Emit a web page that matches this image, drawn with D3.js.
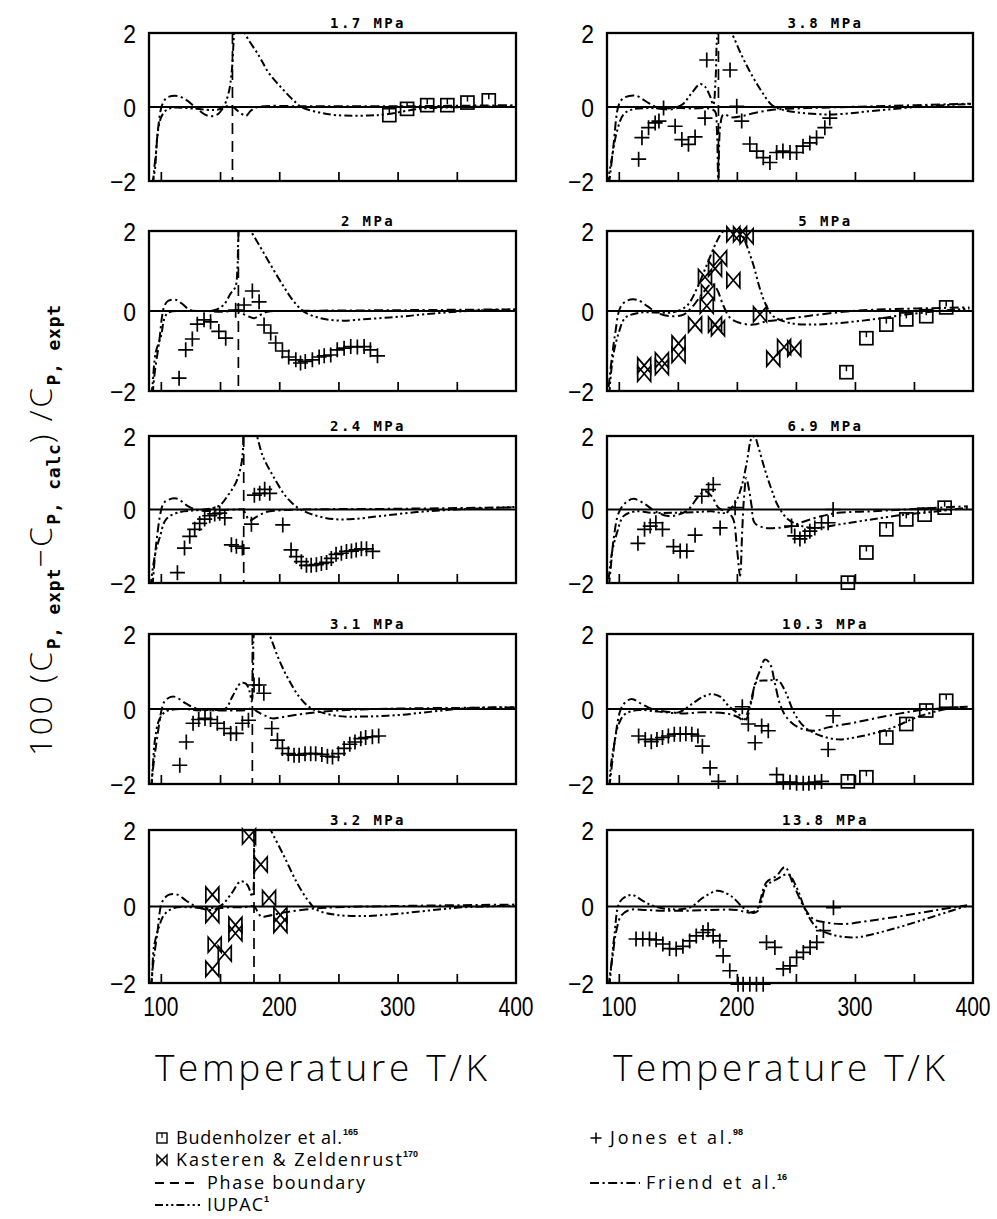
<!DOCTYPE html>
<html><head><meta charset="utf-8">
<script src="https://cdn.jsdelivr.net/npm/d3@7"></script>
<style>body{margin:0;background:#fff}</style>
</head><body>
<svg id="c" width="997" height="1219"></svg>
<script>
// ---------------- DATA ----------------
const titles = ["1.7 MPa","2 MPa","2.4 MPa","3.1 MPa","3.2 MPa","3.8 MPa","5 MPa","6.9 MPa","10.3 MPa","13.8 MPa"];
const phaseT = [160.5,165.5,170,177.3,178.7,184.4,null,null,null,null];
const xTickValues = [100,150,200,250,300,350];
const xTickLabels = [100,200,300,400];
const yTickLabels = [2,0,-2];

// Friend et al. (dash-dot) curves
const friend17 = [[93.5,-2.1],[94,-1.8],[96,-1.2],[98,-0.5],[101,0.05],[105,0.25],[114,0.3],[121,0.2],[129,0.0],[137,-0.2],[142,-0.25],[148,-0.2],[154,0],[160,0.02],[163,-0.05],[168,-0.18],[172,-0.24],[176,-0.1],[182,0],[220,0.02],[300,0.02],[400,0.05]];
const friend20 = [[93,-2.1],[95,-1.5],[98.5,-0.8],[102.7,0.1],[106,0.25],[112.5,0.28],[118,0.18],[125,0.02],[139,0],[150,-0.02],[160,0],[165,0.02],[168,-0.05],[173,-0.12],[178.7,-0.18],[184,-0.1],[190,-0.02],[210,0.0],[300,0.02],[400,0.04]];
const friend24 = [[93,-2.1],[96,-0.96],[100.4,0],[103,0.2],[113,0.3],[124,0.07],[133,-0.03],[150,-0.02],[165,0],[169.4,0.0],[172,-0.15],[175,-0.3],[180.7,-0.2],[189,-0.07],[197.6,-0.03],[220,0],[300,0.02],[400,0.06]];
const friend31 = [[92,-2.1],[93,-1.7],[97,-0.74],[101.3,0.06],[104,0.24],[111,0.33],[121,0.15],[129.4,0.02],[140.7,-0.03],[154.8,-0.04],[171.7,-0.03],[177,0.02],[181.5,-0.07],[186,-0.15],[190,-0.2],[194,-0.25],[205.5,-0.2],[222,-0.12],[245,-0.05],[280,0],[400,0.04]];
const friend32 = [[92,-2.1],[92.8,-1.7],[97,-0.7],[101.3,0.13],[107,0.31],[114,0.31],[122.4,0.13],[131,-0.02],[142,-0.09],[150.6,-0.04],[160,-0.02],[170,-0.02],[178.7,0.0],[182,-0.15],[185,-0.27],[190,-0.25],[205,-0.15],[222,-0.08],[240,-0.03],[400,0.05]];
const friend38 = [[91.5,-2.1],[92.8,-1.8],[95.6,-1.0],[100,0.06],[104,0.24],[114,0.31],[125,0.11],[133.7,-0.03],[142,-0.07],[150.6,-0.03],[161.8,-0.04],[176,-0.04],[181.5,-0.12],[183,-0.56],[184.4,-2.2],[185.8,-0.56],[188.6,-0.2],[195.6,-0.28],[204,-0.25],[215,-0.16],[232,-0.07],[260,-0.03],[316.8,0.02],[398,0.09]];
const friend50 = [[91.4,-1.9],[94.2,-1.15],[97,-0.55],[101.3,0.09],[107,0.26],[115.4,0.28],[123.8,0.13],[132.3,-0.04],[143.5,-0.13],[154.8,-0.09],[163,0.13],[171.7,0.47],[178.7,0.68],[183,0.55],[188.6,0.13],[194.2,-0.17],[202.7,-0.3],[214,-0.34],[225,-0.26],[239.3,-0.21],[259,-0.13],[287,-0.03],[315,0.03],[397,0.09]];
const friend69 = [[91.5,-2.1],[92.8,-1.72],[95.6,-0.81],[99.9,-0.09],[105.5,0.18],[112.5,0.29],[122.4,0.14],[130.8,-0.05],[142,-0.18],[150.6,-0.14],[159,0],[167.5,0.36],[173,0.5],[178.7,0.36],[184.4,0.05],[192.8,-0.09],[197,-0.27],[199.9,-0.99],[202.7,-1.8],[204.5,-0.6],[206,0.3],[208,0.86],[210.5,0.5],[212.5,0.09],[215,-0.36],[223.8,-0.5],[235,-0.5],[246,-0.45],[257.6,-0.32],[271.7,-0.18],[285.8,-0.09],[314,-0.05],[342,0],[395.6,0.09]];
const friend103 = [[92,-2.1],[94.2,-1.48],[97,-0.76],[101.3,-0.04],[105.5,0.18],[111,0.27],[119.6,0.13],[128,0],[145,-0.09],[156,-0.12],[167.5,-0.09],[178.7,-0.09],[192.8,-0.13],[201.3,-0.22],[205.5,-0.31],[209.7,-0.04],[215.4,0.67],[219.6,1.03],[223.8,1.32],[228,1.21],[232.3,0.67],[236.5,0.13],[242,-0.22],[252,-0.49],[266,-0.58],[277.3,-0.49],[299.9,-0.36],[328,-0.18],[356,-0.03],[395.6,0.06]];
const friend138 = [[91.5,-2.1],[92,-1.9],[94.8,-1.29],[97.6,-0.68],[102,-0.24],[109,-0.09],[123,-0.09],[137.3,-0.11],[157,-0.11],[177,-0.09],[199.6,-0.09],[211,-0.16],[216.6,-0.09],[225,0.63],[233.6,0.8],[240.7,1.03],[247.8,0.58],[256.3,0.02],[264.8,-0.33],[276,-0.42],[290.3,-0.46],[312.9,-0.37],[341.3,-0.24],[369.6,-0.09],[395,0.03]];

// IUPAC (dash-dot-dot) curves
const iupac17 = [[92.5,-2.1],[95,-1.7],[97,-0.8],[100,-0.3],[104,-0.1],[110,-0.02],[130,-0.05],[145,-0.08],[152,-0.02],[157,0.35],[160,1.0],[161.5,1.8],[163,2.4],[168,2.4],[171,2.0],[183,1.38],[191,0.93],[203,0.48],[214,0.12],[220,-0.02],[234,-0.15],[248,-0.22],[276,-0.23],[290,-0.2],[318,-0.05],[346,-0.01],[400,0.03]];
const iupac20 = [[92,-2.1],[93,-1.85],[95.6,-1.05],[100,-0.64],[105.5,-0.06],[122,0],[145,0.02],[153,0.15],[159,0.44],[163,0.6],[164.6,1.0],[165.5,1.85],[167,2.3],[172,2.2],[176,2.0],[184,1.6],[192.8,1.15],[204,0.6],[212.5,0.23],[221,-0.02],[235,-0.18],[252,-0.24],[274.5,-0.2],[302.7,-0.14],[331,-0.06],[359,0.0],[400,0.04]];
const iupac24 = [[91.5,-2.1],[92,-1.9],[95.6,-1.15],[99,-0.77],[104.6,-0.26],[116,-0.07],[127,-0.03],[141,0.02],[149.7,0.11],[156.8,0.39],[163.8,0.76],[168,1.23],[169.4,1.65],[170,2.1],[172,2.3],[178,2.15],[181,2.0],[186,1.46],[195,0.9],[206,0.34],[217,0.02],[231.4,-0.17],[245.5,-0.26],[262.4,-0.26],[287.7,-0.17],[316,-0.07],[344,-0.01],[400,0.07]];
const iupac31 = [[92,-2.1],[93.5,-1.4],[95,-0.83],[98.5,-0.3],[104,-0.07],[118,0],[132,-0.04],[146,-0.03],[154.8,0.02],[160.4,0.33],[167.5,0.69],[172,0.67],[175,0.46],[176.8,0.2],[178,1.2],[178.7,2.0],[182,2.3],[186,2.3],[191.4,2.0],[200,1.3],[208,0.78],[216.8,0.33],[225,0.06],[233.7,-0.07],[250.6,-0.19],[273,-0.2],[301,-0.16],[329,-0.07],[357.6,0.02],[398,0.05]];
const iupac32 = [[91.4,-2.1],[92.5,-1.85],[94.2,-1.05],[98.5,-0.53],[102.7,-0.22],[111,-0.04],[125,-0.02],[142,-0.04],[150.6,0.02],[159,0.31],[167.5,0.66],[173,0.57],[177.3,0.26],[178.7,0.7],[180,2.0],[184,2.3],[189,2.25],[192.8,2.0],[204,1.32],[215,0.62],[223.8,0.18],[232,-0.09],[249,-0.22],[271.7,-0.25],[300,-0.19],[328,-0.1],[356,-0.02],[400,0.02]];
const iupac38 = [[91,-2.1],[91.4,-1.9],[94.2,-1.37],[98.5,-0.65],[104,-0.2],[111,-0.07],[125,-0.03],[142,-0.04],[153.4,0.06],[161.8,0.38],[168.9,0.62],[173,0.55],[177.3,0.29],[180,0.06],[182,0.78],[183.8,2.0],[187,2.3],[192,2.2],[195.6,2.0],[204,1.4],[212.5,0.87],[221,0.42],[229.4,0.06],[238,-0.07],[254.8,-0.16],[274.5,-0.2],[288.6,-0.19],[316.8,-0.1],[359,0.02],[398.5,0.08]];
const iupac50 = [[92,-2.1],[92.8,-1.74],[95.6,-1.06],[99.9,-0.55],[105.5,-0.17],[118,-0.04],[132,-0.04],[146.3,-0.03],[157.6,0.13],[166,0.55],[174.5,1.15],[183,1.74],[188.6,2.0],[195.6,2.08],[202.7,2.0],[208,1.66],[214,1.15],[219.6,0.55],[225,0.13],[230.8,-0.13],[245,-0.3],[264.6,-0.34],[287,-0.3],[315,-0.21],[343.5,-0.09],[371.7,0],[397,0.06]];
const iupac69 = [[91.4,-1.9],[94.2,-1.17],[98.5,-0.63],[104,-0.18],[114,-0.05],[128,-0.09],[145,-0.09],[164.6,-0.07],[178.7,-0.05],[190,-0.09],[198.5,0.18],[204,0.63],[208.3,1.26],[212.5,1.94],[215,1.99],[218,1.72],[223.8,1.08],[229.4,0.54],[235,0.09],[243.5,-0.27],[254.8,-0.45],[268.9,-0.5],[285.8,-0.41],[314,-0.27],[342,-0.14],[370,-0.05],[395.6,0.05]];
const iupac103 = [[92,-2.1],[92.8,-1.66],[95.6,-1.03],[99.9,-0.4],[105.5,-0.13],[116.8,-0.03],[133.7,-0.07],[150.6,-0.09],[161.8,0.13],[170.3,0.31],[178.7,0.4],[185.8,0.33],[192.8,0.09],[201.3,-0.13],[207,-0.31],[212.5,0.22],[216.8,0.72],[226.6,0.76],[235,0.76],[240.7,0.49],[249,-0.13],[257.6,-0.49],[271.7,-0.72],[285.8,-0.81],[299.9,-0.76],[328,-0.54],[356,-0.18],[384.4,0.04],[395.6,0.06]];
const iupac138 = [[92,-2.1],[93.4,-1.63],[96.2,-0.77],[100.5,0.1],[106,0.26],[111.8,0.3],[120.3,0.15],[128.8,0.02],[143,-0.07],[160,-0.03],[171.3,0.23],[182.6,0.41],[188.4,0.38],[196.9,0.23],[205.3,-0.03],[213.8,-0.17],[218,-0.11],[225,0.54],[233.6,0.71],[243.5,0.84],[250.6,0.5],[259,-0.16],[267.6,-0.55],[279,-0.72],[298.8,-0.81],[327,-0.63],[355.4,-0.37],[383.8,-0.09],[395,0.02]];

// Jones et al. (+)
const jones20 = [[115.4,-1.68],[121,-0.97],[126.6,-0.7],[130.8,-0.33],[136.5,-0.22],[142,-0.27],[149,-0.51],[154.8,-0.68],[163.2,0.02],[170.3,0.15],[177.3,0.5],[183,0.23],[187.2,-0.35],[192.8,-0.55],[197,-0.8],[202.7,-1.0],[208,-1.15],[214,-1.22],[218,-1.3],[222,-1.26],[228,-1.22],[233.7,-1.15],[238,-1.12],[243.5,-1.1],[249,-0.97],[254.8,-0.93],[260.4,-0.89],[266,-0.9],[271.7,-0.89],[277,-0.97],[283,-1.12]];
const jones24 = [[114,-1.72],[120,-1.05],[124.4,-0.73],[128.6,-0.54],[132.8,-0.38],[137,-0.26],[141.3,-0.17],[145.5,-0.12],[149.7,-0.1],[154,-0.23],[159.6,-0.96],[163.8,-1.0],[168.9,-1.05],[176.5,-0.4],[179,0.39],[183.5,0.44],[187.7,0.55],[192,0.44],[203,-0.42],[210,-1.1],[214.5,-1.28],[218.7,-1.42],[223,-1.52],[227,-1.52],[231.4,-1.5],[235.6,-1.47],[240,-1.44],[244,-1.33],[248,-1.22],[252.5,-1.19],[256.8,-1.14],[261,-1.13],[265,-1.1],[269.4,-1.07],[273.7,-1.07],[279,-1.14]];
const jones31 = [[116,-1.5],[121.5,-0.88],[127.2,-0.38],[132,-0.28],[137.3,-0.25],[142,-0.28],[147.7,-0.38],[153.4,-0.52],[159,-0.65],[163.8,-0.65],[168.9,-0.38],[174,-0.3],[178.7,0.64],[183,0.64],[187,0.42],[193.7,-0.52],[198.5,-0.83],[202.7,-1.05],[207.7,-1.19],[212.5,-1.23],[216.8,-1.23],[221.8,-1.19],[226.6,-1.19],[230.8,-1.19],[236,-1.21],[240.7,-1.26],[245,-1.28],[250,-1.19],[254.8,-1.05],[259.6,-0.94],[264,-0.88],[268.9,-0.79],[273,-0.76],[278.7,-0.74],[284,-0.72]];
const jones38 = [[116.8,-1.41],[119.6,-0.83],[125.2,-0.56],[130.8,-0.43],[134,-0.38],[137.9,-0.03],[147.7,-0.52],[153.4,-0.88],[159,-1.01],[164.6,-0.81],[173,-0.3],[174.5,1.27],[194.2,1.0],[199.9,0.02],[204.1,-0.38],[211,-1.0],[216.8,-1.19],[222.4,-1.37],[228,-1.5],[233.7,-1.23],[239,-1.19],[245,-1.23],[250.6,-1.23],[256,-1.06],[261.8,-0.97],[267.5,-0.83],[274.5,-0.56],[278.7,-0.3]];
const jones69 = [[116.2,-0.92],[121.8,-0.54],[126.6,-0.45],[131.4,-0.36],[137,-0.54],[146.3,-1.01],[152,-1.13],[157.6,-1.13],[164.6,-0.7],[170.3,0.36],[176,0.54],[180,0.68],[185.8,-0.5],[198.5,0.05],[246.3,-0.45],[249,-0.72],[253.4,-0.8],[257.6,-0.72],[261.8,-0.59],[266,-0.5],[271.7,-0.36],[277.3,-0.36],[281.5,0.0]];
const jones103 = [[116.8,-0.72],[122.4,-0.81],[127.5,-0.87],[132.3,-0.81],[137,-0.76],[142,-0.72],[147,-0.67],[152,-0.67],[156.8,-0.66],[161.8,-0.67],[167,-0.72],[170.8,-0.99],[177.3,-1.57],[184.4,-1.93],[204.6,0.06],[209.7,-0.4],[215.4,-0.9],[221,-0.45],[226.6,-0.58],[233.7,-1.75],[239.3,-1.95],[245,-1.95],[250.6,-1.98],[256.2,-1.98],[261,-1.98],[266,-1.95],[271.7,-1.93],[277.3,-1.08],[281.5,-0.18]];
const jones138 = [[114.6,-0.85],[120.3,-0.85],[126,-0.85],[131.6,-0.87],[137.3,-0.98],[143,-1.1],[148.6,-1.11],[154.3,-1.04],[160,-0.9],[165.6,-0.77],[171.3,-0.68],[175.6,-0.61],[179.9,-0.77],[185.5,-0.9],[188.4,-1.29],[194,-1.68],[201,-2.03],[205.3,-2.03],[211,-2.03],[216.6,-2.03],[222.3,-2.03],[225.1,-0.94],[232.2,-1.07],[239.3,-1.63],[245,-1.55],[250.6,-1.33],[256.3,-1.2],[262,-1.07],[267.7,-0.94],[273.3,-0.63],[281.8,-0.03]];

// Budenholzer et al. (square)
const bud17 = [[293,-0.22],[308,-0.05],[325,0.05],[342,0.05],[359,0.12],[377,0.18]];
const bud50 = [[292.8,-1.53],[309.7,-0.68],[326.6,-0.34],[343.5,-0.21],[360.4,-0.13],[377.3,0.09]];
const bud69 = [[294,-1.99],[309.7,-1.17],[326.6,-0.54],[343.5,-0.27],[359,-0.14],[376,0.05]];
const bud103 = [[294,-1.93],[309.7,-1.82],[326.6,-0.76],[343.5,-0.4],[360.4,-0.04],[377.3,0.22]];

// Kasteren & Zeldenrust (bowtie)
const kast32 = [[143.5,0.31],[143.5,-0.22],[145.5,-1.0],[143.5,-1.63],[154,-1.23],[163,-0.48],[163,-0.7],[174.5,1.83],[184.4,1.1],[191.4,0.22],[201,-0.22],[201,-0.48]];
const kast50 = [[121.5,-1.36],[121.5,-1.57],[136.5,-1.23],[136.5,-1.4],[150.6,-0.81],[150.6,-1.1],[164.6,-0.34],[173,0.85],[175.5,0.47],[174.5,0.13],[181.5,-0.34],[184,-0.43],[181.5,1.06],[185.8,1.32],[197,1.92],[202.7,1.92],[208.3,1.87],[197,0.77],[219.6,-0.08],[230.8,-1.19],[240,-0.9],[248.6,-0.94]];

// ---------------- LAYOUT ----------------
const colL = [149, 607], colR = [516, 973];
const rowT = [33, 231, 436, 634, 830], rowB = [181, 391, 583, 784, 983];

const panels = [
  {friend:friend17, iupac:iupac17, bud:bud17},
  {friend:friend20, iupac:iupac20, jones:jones20},
  {friend:friend24, iupac:iupac24, jones:jones24},
  {friend:friend31, iupac:iupac31, jones:jones31},
  {friend:friend32, iupac:iupac32, kast:kast32},
  {friend:friend38, iupac:iupac38, jones:jones38},
  {friend:friend50, iupac:iupac50, bud:bud50, kast:kast50},
  {friend:friend69, iupac:iupac69, jones:jones69, bud:bud69},
  {friend:friend103, iupac:iupac103, jones:jones103, bud:bud103},
  {friend:friend138, iupac:iupac138, jones:jones138}
].map((p,i)=>Object.assign(p,{title:titles[i], phase:phaseT[i]}));

const DASH_FRIEND = "9,3.5,2.2,3.5";
const DASH_IUPAC = "8,3,2.2,3,2.2,3";
const numFont = "'Liberation Sans', Arial, sans-serif";
const monoFont = "'DejaVu Sans Mono', monospace";
const thinFont = "'Open Sans', 'DejaVu Sans', sans-serif";

const svg = d3.select("#c");
const defs = svg.append("defs");

function plusPath(s){return `M${-s},0H${s}M0,${-s}V${s}`;}
function bowPath(w,h){return `M${-w},${-h}L${-w},${h}L${w},${-h}L${w},${h}Z`;}

panels.forEach((p,i)=>{
  const col = i<5?0:1, row = i%5;
  const L=colL[col], R=colR[col], T=rowT[row], B=rowB[row];
  const x = d3.scaleLinear().domain([90,400]).range([L,R]);
  const y = d3.scaleLinear().domain([-2,2]).range([B,T]);
  const g = svg.append("g");
  const cid = "clip"+i;
  defs.append("clipPath").attr("id",cid).append("rect").attr("x",L).attr("y",T).attr("width",R-L).attr("height",B-T);

  const ax = g.append("g").attr("transform",`translate(0,${B})`)
    .call(d3.axisBottom(x).tickValues(xTickValues).tickSize(-9).tickFormat(""));
  ax.select(".domain").remove();
  ax.selectAll("line").attr("stroke","#000").attr("stroke-width",1.7);

  g.append("line").attr("x1",L).attr("x2",R).attr("y1",y(0)).attr("y2",y(0)).attr("stroke","#000").attr("stroke-width",2);

  if(p.phase){
    g.append("line").attr("x1",x(p.phase)).attr("x2",x(p.phase)).attr("y1",T).attr("y2",B)
      .attr("stroke","#000").attr("stroke-width",1.7).attr("stroke-dasharray","11,7");
  }

  const line = d3.line().x(d=>x(d[0])).y(d=>y(d[1])).curve(d3.curveCatmullRom.alpha(0.5));
  const cg = g.append("g").attr("clip-path",`url(#${cid})`);
  cg.append("path").attr("d",line(p.friend)).attr("fill","none").attr("stroke","#000").attr("stroke-width",2).attr("stroke-dasharray",DASH_FRIEND);
  cg.append("path").attr("d",line(p.iupac)).attr("fill","none").attr("stroke","#000").attr("stroke-width",2).attr("stroke-dasharray",DASH_IUPAC);

  if(p.jones) g.selectAll(".j").data(p.jones).join("path")
    .attr("transform",d=>`translate(${x(d[0])},${y(d[1])})`).attr("d",plusPath(7.5))
    .attr("stroke","#000").attr("stroke-width",1.7).attr("fill","none");
  if(p.bud) {
    const bg = g.selectAll(".b").data(p.bud).join("g").attr("transform",d=>`translate(${x(d[0])},${y(d[1])})`);
    bg.append("rect").attr("x",-6.5).attr("y",-6.5).attr("width",13).attr("height",13).attr("fill","none").attr("stroke","#000").attr("stroke-width",1.7);
    bg.append("line").attr("x1",0).attr("x2",0).attr("y1",-6.5).attr("y2",-1).attr("stroke","#000").attr("stroke-width",1.5);
  }
  if(p.kast) g.selectAll(".k").data(p.kast).join("path")
    .attr("transform",d=>`translate(${x(d[0])},${y(d[1])})`).attr("d",bowPath(6.5,7.5))
    .attr("stroke","#000").attr("stroke-width",1.7).attr("fill","none");

  g.append("rect").attr("x",L).attr("y",T).attr("width",R-L).attr("height",B-T).attr("fill","none").attr("stroke","#000").attr("stroke-width",2.3);

  g.append("text").attr("x",x(275)).attr("y",T-5).attr("text-anchor","middle")
    .attr("font-family",monoFont).attr("font-weight","bold").attr("font-size",14).attr("letter-spacing",2.4)
    .text(p.title);

  // y labels (horizontally condensed glyphs)
  g.selectAll(".yl").data(yTickLabels).join("text")
    .attr("transform",d=>`translate(${L-13},${y(d)+9.5}) scale(0.88,1)`).attr("text-anchor","end")
    .attr("font-family",numFont).attr("font-size",26)
    .text(d=>d<0?"\u2212"+Math.abs(d):String(d));

  if(row===4){
    g.selectAll(".xl").data(xTickLabels).join("text")
      .attr("transform",d=>`translate(${x(d)},${B+33}) scale(0.78,1)`).attr("text-anchor","middle")
      .attr("font-family",numFont).attr("font-size",27)
      .text(d=>d);
    g.append("text").attr("x",L+6).attr("y",1081)
      .attr("font-family",thinFont).attr("font-weight",300).attr("font-size",37)
      .attr("textLength",332).attr("lengthAdjust","spacing")
      .text("Temperature T/K");
  }
});

// y axis title
const yt = svg.append("text").attr("transform","translate(52,530) rotate(-90)").attr("text-anchor","middle")
  .attr("font-family",thinFont).attr("font-weight",300).attr("font-size",32).attr("letter-spacing",2.5);
yt.append("tspan").text("100 (C");
yt.append("tspan").attr("font-family",monoFont).attr("font-size",18).attr("font-weight","bold").attr("letter-spacing",0.8).attr("dy",8).text("P, expt");
yt.append("tspan").attr("dy",-8).text("\u2212C");
yt.append("tspan").attr("font-family",monoFont).attr("font-size",18).attr("font-weight","bold").attr("letter-spacing",0.8).attr("dy",8).text("P, calc");
yt.append("tspan").attr("dy",-8).text(") /C");
yt.append("tspan").attr("font-family",monoFont).attr("font-size",18).attr("font-weight","bold").attr("letter-spacing",0.8).attr("dy",8).text("P, expt");

// legend
const lg = svg.append("g").attr("font-family",thinFont).attr("font-weight",400).attr("font-size",18);
function legText(x0,yb,txt,sup,len){
  lg.append("text").attr("x",x0).attr("y",yb).attr("textLength",len).attr("lengthAdjust","spacing").text(txt);
  lg.append("text").attr("x",x0+len+1).attr("y",yb-9).attr("font-family",numFont).attr("font-size",9).attr("font-weight","bold").text(sup);
}
lg.append("rect").attr("x",157).attr("y",1133).attr("width",10).attr("height",10).attr("fill","none").attr("stroke","#000").attr("stroke-width",1.4);
lg.append("line").attr("x1",162).attr("x2",162).attr("y1",1133).attr("y2",1138).attr("stroke","#000").attr("stroke-width",1.2);
legText(176,1144,"Budenholzer et al.","165",166);
lg.append("path").attr("transform","translate(162,1160)").attr("d",bowPath(5,5)).attr("fill","none").attr("stroke","#000").attr("stroke-width",1.4);
legText(176,1166,"Kasteren & Zeldenrust","170",226);
lg.append("line").attr("x1",155).attr("x2",200).attr("y1",1183).attr("y2",1183).attr("stroke","#000").attr("stroke-width",1.8).attr("stroke-dasharray","9,6");
lg.append("text").attr("x",207).attr("y",1189).attr("textLength",158).attr("lengthAdjust","spacing").text("Phase boundary");
lg.append("line").attr("x1",155).attr("x2",200).attr("y1",1205).attr("y2",1205).attr("stroke","#000").attr("stroke-width",1.8).attr("stroke-dasharray",DASH_IUPAC);
legText(207,1211,"IUPAC","1",56);
lg.append("path").attr("transform","translate(596,1138)").attr("d",plusPath(5.5)).attr("stroke","#000").attr("stroke-width",1.5);
legText(610,1144,"Jones et al.","98",122);
lg.append("line").attr("x1",590).attr("x2",640).attr("y1",1183).attr("y2",1183).attr("stroke","#000").attr("stroke-width",1.8).attr("stroke-dasharray",DASH_FRIEND);
legText(646,1189,"Friend et al.","16",130);
</script></body></html>
